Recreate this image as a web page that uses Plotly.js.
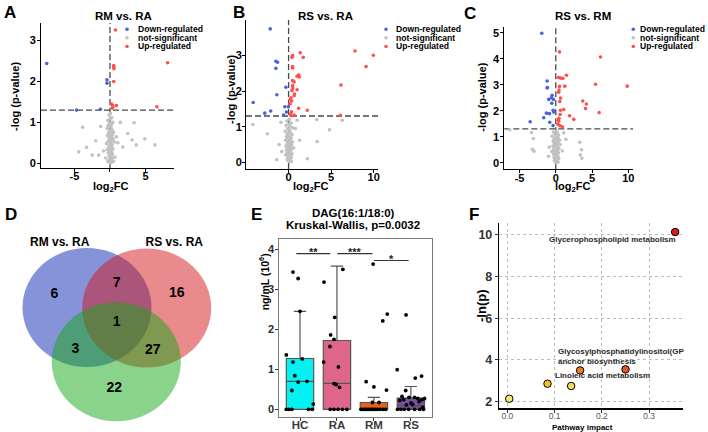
<!DOCTYPE html>
<html><head><meta charset="utf-8">
<script src="https://cdn.plot.ly/plotly-3.0.1.min.js"></script>
<style>html,body{margin:0;padding:0;background:#fff}#chart{width:708px;height:432px}</style>
</head><body><div id="chart"></div>
<script>
// ================= DATA =================
const legendLabels = ['Down-regulated','not-significant','Up-regulated'];
const pThreshold = 1.3;
const fcThreshold = 0;

// ---- A: RM vs. RA ----
const aTitle = 'RM vs. RA';
const aDownX = [-8.9,-0.42,-0.42,-4.7,-1.35];
const aDownY = [2.44,2.04,1.96,1.30,1.32];
const aUpX = [0.76,0.52,0.55,0.55,0.52,8.1,0.2,0.35,0.9,0.4,6.6,0.3];
const aUpY = [3.26,2.39,2.35,2.31,2.0,2.46,1.45,1.42,1.41,1.37,1.38,1.35];
const aNsX = [0.05,-0.15,0.25,-0.3,0.1,0.4,-0.05,0.2,-0.25,0.0,
  0.15,-0.4,0.3,0.05,-0.1,0.5,-0.2,0.1,0.35,-0.35,
  0.0,0.2,-0.15,0.45,0.1,-0.05,0.25,-0.3,0.6,0.05,
  -0.5,0.15,0.3,-0.1,0.0,0.2,-0.2,0.4,0.1,-0.4,
  0.05,0.25,-0.05,0.15,-0.25,0.35,0.0,0.1,-0.1,0.2,
  0.7,-0.6,0.3,0.0,-0.15,0.1,0.5,-0.3,0.2,0.05,
  -3.85,-1.3,3.4,2.5,3.1,3.7,4.9,6.3,-4.4,-3.3,-2.5,-2.0,1.1,1.45,-0.9,0.9,1.8,-1.6];
const aNsY = [1.22,1.18,1.12,1.05,1.08,1.0,0.98,0.95,0.92,0.9,
  0.88,0.85,0.82,0.8,0.78,0.76,0.74,0.72,0.7,0.68,
  0.66,0.64,0.62,0.6,0.58,0.56,0.55,0.53,0.52,0.5,
  0.48,0.46,0.45,0.43,0.42,0.4,0.38,0.36,0.35,0.33,
  0.32,0.3,0.28,0.27,0.25,0.23,0.22,0.2,0.18,0.17,
  0.15,0.13,0.12,0.1,0.08,0.07,0.05,0.04,0.02,0.01,
  0.88,0.9,0.99,0.73,0.57,0.45,0.6,0.45,0.28,0.39,0.2,0.55,0.5,1.0,0.3,0.65,0.4,0.2];

// ---- B: RS vs. RA ----
const bTitle = 'RS vs. RA';
const bDownX = [-2.16,-1.49,-1.3,-1.49,-0.32,-1.38,-4.16,-0.44,-0.02,-2.1,-2.8,-0.6,-0.25];
const bDownY = [3.75,2.84,2.81,2.64,2.11,1.9,1.68,1.56,1.56,1.44,1.38,1.33,1.41];
const bUpX = [7.8,9.95,9.1,6.15,6.07,1.37,0.47,0.4,1.72,0.47,0.47,1.18,1.0,1.25,0.47,0.65,0.47,0.5,1.0,0.4,0.7,0.65,0.28,0.2,0.35,0.16,1.18,2.2,0.35,0.2,0.65,0.3];
const bUpY = [3.13,3.01,2.69,2.17,1.32,3.08,3.0,2.95,2.95,2.69,2.65,2.45,2.42,2.4,2.3,2.26,2.16,2.09,2.04,2.02,1.92,1.87,1.81,1.77,1.72,1.64,1.52,1.46,1.42,1.35,1.33,1.31];
const bNsX = [0.1,-0.2,0.3,0.0,-0.3,0.2,0.5,-0.1,0.15,-0.4,
  0.05,0.25,-0.15,0.4,0.0,-0.25,0.1,0.3,-0.05,0.2,
  -0.35,0.15,0.0,0.45,-0.1,0.25,0.05,-0.2,0.35,0.1,
  -0.3,0.0,0.2,-0.15,0.6,0.05,-0.05,0.3,-0.25,0.15,
  0.1,-0.1,0.0,0.2,-0.2,0.4,0.05,-0.35,0.25,0.0,
  0.15,-0.05,0.3,0.1,-0.15,0.0,0.2,-0.1,0.05,0.35,
  -4.2,-2.5,3.35,4.8,3.3,6.3,-1.4,1.0,-0.9,0.8,-0.8,1.3,-1.1,2.2];
const bNsY = [1.2,1.16,1.1,1.07,1.03,1.0,0.97,0.94,0.9,0.87,
  0.84,0.82,0.8,0.77,0.75,0.72,0.7,0.68,0.66,0.64,
  0.62,0.6,0.58,0.57,0.55,0.53,0.52,0.5,0.48,0.47,
  0.45,0.44,0.42,0.41,0.4,0.38,0.37,0.35,0.34,0.33,
  0.31,0.3,0.28,0.27,0.25,0.24,0.22,0.21,0.2,0.18,
  0.16,0.15,0.13,0.11,0.1,0.08,0.06,0.05,0.03,0.02,
  1.06,0.8,0.58,0.91,1.2,1.18,0.07,1.18,1.12,0.95,0.3,0.62,0.5,0.1];

// ---- C: RS vs. RM ----
const cTitle = 'RS vs. RM';
const cDownX = [-1.93,-1.19,-1.15,-1.2,-0.5,-0.6,-0.32,-0.97,-0.55,-0.37,-0.28,-1.29,-0.87,-1.66,-0.83,-3.53,-0.37];
const cDownY = [4.99,3.15,2.9,2.88,2.6,2.5,2.44,2.44,2.29,2.02,1.95,1.91,1.89,1.73,1.56,1.58,1.43];
const cUpX = [0.51,6.17,0.37,0.65,0.97,1.48,0.51,1.24,5.48,9.85,0.45,0.4,0.65,0.55,3.72,4.23,4.1,1.1,0.65,5.98,0.6,0.45,1.9,2.48,0.35,0.3,0.55,0.9,0.4];
const cUpY = [4.27,4.07,3.28,3.26,3.25,3.37,2.94,2.95,3.02,2.95,2.8,2.71,2.49,2.36,2.38,2.26,2.09,2.05,2.02,1.93,1.86,1.71,1.81,1.67,1.63,1.48,1.43,1.38,1.6];
const cNsX = [0.1,-0.3,0.2,-0.1,0.4,0.0,-0.5,0.3,0.15,-0.2,
  0.05,0.5,-0.35,0.25,-0.05,0.1,-0.25,0.35,0.0,0.6,
  -0.15,0.2,-0.4,0.1,0.3,-0.1,0.0,0.45,-0.3,0.15,
  0.05,-0.2,0.25,-0.55,0.1,0.0,0.35,-0.1,0.2,-0.3,
  0.15,0.0,-0.15,0.3,0.05,-0.05,0.2,-0.25,0.1,0.4,
  0.0,-0.1,0.25,0.1,-0.2,0.05,0.15,-0.05,0.3,0.0,
  -6.35,-3.35,-3.1,-3.2,-3.0,3.3,3.55,3.4,3.6,1.1,1.4,-0.9,0.9,-1.0];
const cNsY = [1.22,1.18,1.15,1.1,1.08,1.05,1.02,0.98,0.95,0.92,
  0.9,0.87,0.85,0.82,0.8,0.78,0.76,0.74,0.72,0.7,
  0.68,0.66,0.64,0.62,0.6,0.58,0.56,0.54,0.52,0.5,
  0.48,0.46,0.45,0.43,0.41,0.4,0.38,0.36,0.35,0.33,
  0.31,0.3,0.28,0.26,0.25,0.23,0.21,0.2,0.18,0.16,
  0.15,0.13,0.11,0.1,0.08,0.06,0.05,0.04,0.02,0.01,
  1.27,1.16,0.93,0.52,0.44,0.79,0.5,0.3,0.17,1.15,0.9,0.6,0.45,0.25];

// ---- D: Venn ----
const vennSets = ['RM vs. RA','RS vs. RA'];
const vennCounts = [6,7,16,1,3,27,22];

// ---- E: DAG(16:1/18:0) ----
const eTitle = ['DAG(16:1/18:0)','Kruskal-Wallis, p=0.0032'];
const eGroups = ['HC','RA','RM','RS'];
const eQ1 = [0,0,0,0];
const eMedian = [0.70,0.65,0.0,0.09];
const eQ3 = [1.27,1.72,0.17,0.28];
const eLower = [0,0,0,0];
const eUpper = [2.45,3.58,0.30,0.57];
const eHCoff = [-0.37,-0.19,-0.19,-0.05,0.0,0.06,-0.14,-0.05,0.19,-0.22,0.36,-0.37,-0.3,-0.22,0.23,0.33];
const eHC    = [1.36,1.18,3.43,3.27,2.45,1.26,0.84,0.68,0.70,0.47,0.13,0,0,0,0,0];
const eRAoff = [-0.35,0.16,-0.06,-0.17,-0.08,-0.19,-0.36,0.04,-0.08,-0.02,0.07,-0.18,-0.08,0.03,0.15,0.27];
const eRA    = [3.18,3.5,2.3,1.86,1.75,1.57,1.18,1.06,0.64,0.62,0.55,0,0,0,0,0];
const eRMoff = [-0.02,0.24,0.36,-0.21,0.0,0.34,-0.04,0.14,-0.35,-0.3,-0.25,-0.2,-0.15,-0.1,-0.05,0.0,0.05,0.1,0.17,0.25,0.32];
const eRM    = [3.63,2.21,2.38,0.69,0.56,0.48,0.17,0.17,0,0,0,0,0,0,0,0,0,0,0,0,0];
const eRSoff = [-0.13,-0.37,0.29,0.12,-0.14,-0.24,-0.19,0.1,0.19,0.3,0.37,-0.3,0.22,0.05,-0.12,0.32,-0.36,-0.27,-0.18,-0.06,0.1,0.24,0.34,0.0,-0.05];
const eRS    = [2.36,0.99,0.83,0.78,0.47,0.32,0.24,0.3,0.27,0.24,0.27,0.22,0.19,0.12,0.11,0.05,0,0,0,0,0,0,0,0.16,0.3];
const eSigLabels = ['**','***','*'];
const eSigFrom = [-0.1,1.01,2.0];
const eSigTo = [0.82,1.96,2.94];
const eSigY = [3.89,3.89,3.72];

// ---- F: pathway ----
const fImpact = [0.004,0.085,0.135,0.154,0.25,0.355];
const fNegLnP = [2.14,2.86,2.75,3.50,3.55,10.14];
const fNames = ['Glycerophospholipid metabolism','Glycosylphosphatidylinositol(GP<br>anchor biosynthesis','Linoleic acid metabolism'];

// ================= STYLE / LAYOUT =================
const W = 708, H = 432;
const FONT = '"Liberation Sans", Arial, sans-serif';
const BLUE = '#4963dd', RED = '#ff4f4f', GRAY = '#c2c2c2';
const px = v => v / W, py = v => 1 - v / H;
const dom = (a, b) => [a / W, b / W];
const domY = (top, bot) => [1 - bot / H, 1 - top / H];

const axisBase = {
  showline: true, linecolor: '#000', linewidth: 1, ticks: 'outside', ticklen: 3, tickwidth: 1,
  tickcolor: '#000', showgrid: false, zeroline: false, fixedrange: true,
  tickfont: {family: FONT, size: 11, color: '#000', weight: 'bold'}
};
const tk = (vals, hide) => ({tickvals: vals, ticktext: vals.map(v => (hide === v ? '' : String(v)))});

function volcano(ax, nsX, nsY, dX, dY, uX, uY) {
  const xa = 'x' + ax, ya = 'y' + ax;
  const m = c => ({size: 3.6, color: c});
  return [
    {type: 'scatter', mode: 'markers', x: nsX, y: nsY, xaxis: xa, yaxis: ya, marker: m(GRAY), hoverinfo: 'skip'},
    {type: 'scatter', mode: 'markers', x: dX, y: dY, xaxis: xa, yaxis: ya, marker: m(BLUE), hoverinfo: 'skip'},
    {type: 'scatter', mode: 'markers', x: uX, y: uY, xaxis: xa, yaxis: ya, marker: m(RED), hoverinfo: 'skip'}
  ];
}

const traces = [];
traces.push(...volcano('', aNsX, aNsY, aDownX, aDownY, aUpX, aUpY));
traces.push(...volcano('2', bNsX, bNsY, bDownX, bDownY, bUpX, bUpY));
traces.push(...volcano('3', cNsX, cNsY, cDownX, cDownY, cUpX, cUpY));

// Venn (D) geometry in panel pixel units
const vennCircles = [
  {cx: 87.0, cy: 307.5, fill: 'rgba(12,42,178,0.5)'},
  {cx: 146.7, cy: 308.0, fill: 'rgba(212,22,28,0.5)'},
  {cx: 116.3, cy: 361.7, fill: 'rgba(22,168,22,0.5)'}
];
const vennRx = 64.5, vennRy = 59.5;
const vennCountPos = [[54.3,294],[116.7,283.3],[176.7,293.3],[116.7,322.7],[75.3,349.3],[152.7,350],[114.3,388.3]];
const vennSetPos = [[59.7,242.5],[174.3,242.5]];
traces.push({type: 'scatter', mode: 'text', x: vennCountPos.map(p => p[0]), y: vennCountPos.map(p => p[1]),
  text: vennCounts.map(String), xaxis: 'x4', yaxis: 'y4', hoverinfo: 'skip', cliponaxis: false,
  textfont: {family: FONT, size: 14, color: '#000', weight: 'bold'}});
traces.push({type: 'scatter', mode: 'text', x: vennSetPos.map(p => p[0]), y: vennSetPos.map(p => p[1]),
  text: vennSets, xaxis: 'x4', yaxis: 'y4', hoverinfo: 'skip', cliponaxis: false,
  textfont: {family: FONT, size: 12, color: '#000', weight: 'bold'}});

// Box plot (E)
const eColors = ['#00f2f2', '#de668b', '#ec5f17', '#7a52a6'];
eGroups.forEach((g, i) => {
  traces.push({type: 'box', x: [i], q1: [eQ1[i]], median: [eMedian[i]], q3: [eQ3[i]],
    lowerfence: [eLower[i]], upperfence: [eUpper[i]], xaxis: 'x5', yaxis: 'y5',
    fillcolor: eColors[i], line: {color: '#555', width: 1.2}, width: 0.74, whiskerwidth: 0.45,
    boxpoints: false, hoverinfo: 'skip'});
});
const eOffs = [eHCoff, eRAoff, eRMoff, eRSoff];
const eVals = [eHC, eRA, eRM, eRS];
eOffs.forEach((off, i) => {
  traces.push({type: 'scatter', mode: 'markers', x: off.map(o => i + o), y: eVals[i], xaxis: 'x5', yaxis: 'y5',
    marker: {size: 3.8, color: '#000'}, hoverinfo: 'skip'});
});

// Pathway (F)
const fColors = ['#f3ec6c', '#f2c226', '#f3e04c', '#ec7a22', '#e4552a', '#dc1c1c'];
traces.push({type: 'scatter', mode: 'markers', x: fImpact, y: fNegLnP, xaxis: 'x6', yaxis: 'y6',
  marker: {size: 7.5, color: fColors, line: {color: '#000', width: 1}}, hoverinfo: 'skip', cliponaxis: false});

// shapes
const shapes = [];
[['', 'x', 'y'], ['2', 'x2', 'y2'], ['3', 'x3', 'y3']].forEach(([s, xa, ya]) => {
  const dash = {color: '#4a4a4a', width: 1.3, dash: '6px,3px'};
  shapes.push({type: 'line', xref: xa, yref: ya + ' domain', x0: fcThreshold, x1: fcThreshold, y0: 0, y1: 1, line: dash, layer: 'below'});
  shapes.push({type: 'line', xref: xa + ' domain', yref: ya, x0: 0, x1: 1, y0: pThreshold, y1: pThreshold, line: dash, layer: 'below'});
});
vennCircles.forEach(c => shapes.push({type: 'circle', xref: 'x4', yref: 'y4', x0: c.cx - vennRx, x1: c.cx + vennRx,
  y0: c.cy - vennRy, y1: c.cy + vennRy, fillcolor: c.fill, line: {width: 0}, layer: 'below'}));
eSigLabels.forEach((l, i) => shapes.push({type: 'line', xref: 'x5', yref: 'y5', x0: eSigFrom[i], x1: eSigTo[i],
  y0: eSigY[i], y1: eSigY[i], line: {color: '#333', width: 1.2}}));

// legends (A,B,C) as markers + labels
const legendPos = [{mx: 127, tx: 135.5}, {mx: 386, tx: 394}, {mx: 633.3, tx: 637.5}];
const legendRows = [29.3, 37.8, 46.5];
const legendCols = [BLUE, GRAY, RED];
const annotations = [];
const ann = (text, x, y, size, o = {}) => Object.assign({text, x: px(x), y: py(y), xref: 'paper', yref: 'paper',
  showarrow: false, xanchor: 'center', yanchor: 'middle',
  font: {family: FONT, size, color: '#000', weight: 'bold'}}, o);
legendPos.forEach(lp => {
  legendRows.forEach((ry, j) => {
    shapes.push({type: 'circle', xref: 'paper', yref: 'paper', xsizemode: 'pixel', ysizemode: 'pixel',
      xanchor: px(lp.mx), yanchor: py(ry), x0: -1.8, x1: 1.8, y0: -1.8, y1: 1.8,
      fillcolor: legendCols[j], line: {width: 0}});
    annotations.push(ann(legendLabels[j], lp.tx, ry, 8.6, {xanchor: 'left'}));
  });
});

// panel letters
[['A', 1.5, 13], ['B', 230.5, 13], ['C', 461.5, 13.5], ['D', 3, 214], ['E', 249, 215], ['F', 466.5, 214]]
  .forEach(([t, x, y]) => annotations.push(ann(t, x, y, 17, {xanchor: 'left'})));

// volcano titles & axis titles
annotations.push(ann(aTitle, 123, 15.7, 11.5));
annotations.push(ann(bTitle, 325, 15.7, 11.5));
annotations.push(ann(cTitle, 583.3, 15.7, 11.5));
[[110.5], [310.5], [572.5]].forEach(([x]) => annotations.push(ann('log<sub>2</sub>FC', x, 186.5, 11)));
[[15, 97], [231, 90], [481.7, 97]].forEach(([x, y]) => annotations.push(ann('-log (p-value)', x, y, 11, {textangle: -90})));

// E titles
annotations.push(ann(eTitle[0], 353.3, 213.3, 11.5));
annotations.push(ann(eTitle[1], 353.3, 225.3, 11.5));
annotations.push(ann('ng/mL (10<sup>6</sup>)', 263.3, 282, 10.5, {textangle: -90}));
eSigLabels.forEach((l, i) => annotations.push({text: l, x: (eSigFrom[i] + eSigTo[i]) / 2, y: eSigY[i], xref: 'x5', yref: 'y5',
  showarrow: false, xanchor: 'center', yanchor: 'bottom', yshift: -6,
  font: {family: FONT, size: 11, color: '#222', weight: 'bold'}}));

// F labels
const fLabelPos = [[0.223, 9.79, 'center'], [0.103, 4.19, 'left'], [0.096, 3.25, 'left']];
fNames.forEach((n, i) => annotations.push({text: n, x: fLabelPos[i][0], y: fLabelPos[i][1], xref: 'x6', yref: 'y6',
  showarrow: false, xanchor: fLabelPos[i][2], yanchor: 'middle', align: 'left',
  font: {family: FONT, size: 8, color: '#2a2a2a', weight: 'bold'}}));
annotations.push(ann('-ln(p)', 481, 306, 13, {textangle: -90}));
annotations.push(ann('Pathway impact', 582.7, 427, 8));

const xStand = {ticklabelstandoff: -5};
const yStand = {ticklabelstandoff: -1};
const layout = {
  width: W, height: H, margin: {l: 0, r: 0, t: 0, b: 0}, paper_bgcolor: '#fff', plot_bgcolor: 'rgba(0,0,0,0)',
  showlegend: false, font: {family: FONT}, shapes, annotations,
  xaxis:  Object.assign({}, axisBase, xStand, {domain: dom(41, 174), range: [-9.7, 9.0], anchor: 'y'}, tk([-5, 0, 5], 0)),
  yaxis:  Object.assign({}, axisBase, yStand, {domain: domY(23, 168), range: [-0.115, 3.43], anchor: 'x'}, tk([0, 1, 2, 3])),
  xaxis2: Object.assign({}, axisBase, xStand, {domain: dom(246, 378), range: [-5.0, 10.5], anchor: 'y2'}, tk([0, 5, 10])),
  yaxis2: Object.assign({}, axisBase, {ticklabelstandoff: -2}, {domain: domY(20, 169), range: [-0.19, 4.0], anchor: 'x2'}, tk([0, 1, 2, 3])),
  xaxis3: Object.assign({}, axisBase, xStand, {domain: dom(504.3, 633), range: [-7.1, 10.65], anchor: 'y3'}, tk([-5, 0, 5, 10])),
  yaxis3: Object.assign({}, axisBase, yStand, {domain: domY(26.7, 169.3), range: [-0.254, 5.24], anchor: 'x3'}, tk([0, 1, 2, 3, 4, 5])),
  xaxis4: {domain: dom(0, 230), range: [0, 230], visible: false, anchor: 'y4', fixedrange: true},
  yaxis4: {domain: domY(228, 432), range: [432, 228], visible: false, anchor: 'x4', fixedrange: true},
  xaxis5: Object.assign({}, axisBase, {domain: dom(279.3, 432.3), range: [-0.56, 3.58], anchor: 'y5',
    mirror: true, linecolor: '#7a7a7a', tickcolor: '#333', ticklen: 3, tickvals: [0, 1, 2, 3], ticktext: eGroups,
    ticklabelstandoff: -6, tickfont: {family: FONT, size: 11.5, color: '#3a3a3a', weight: 'bold'}}),
  yaxis5: Object.assign({}, axisBase, {domain: domY(239.3, 417.3), range: [-0.2, 4.25], anchor: 'x5',
    mirror: true, linecolor: '#7a7a7a', tickcolor: '#333', ticklen: 3, tickvals: [0, 1, 2, 3, 4],
    ticklabelstandoff: -1, tickfont: {family: FONT, size: 11, color: '#2a2a2a', weight: 'bold'}}),
  xaxis6: Object.assign({}, axisBase, {domain: dom(499.3, 682.7), range: [-0.017, 0.371], anchor: 'y6',
    linewidth: 1.5, ticklen: 3, tickcolor: '#333', tickvals: [0, 0.1, 0.2, 0.3], ticktext: ['0.0', '0.1', '0.2', '0.3'],
    showgrid: true, gridcolor: '#bdbdbd', griddash: 'dot', gridwidth: 1, ticklabelstandoff: -4,
    tickfont: {family: FONT, size: 8.5, color: '#555', weight: 'normal'}}),
  yaxis6: Object.assign({}, axisBase, {domain: domY(223.3, 408.3), range: [1.68, 10.56], anchor: 'x6',
    linewidth: 1.5, ticklen: 3, tickcolor: '#333', tickvals: [2, 4, 6, 8, 10],
    showgrid: true, gridcolor: '#bdbdbd', griddash: 'dot', gridwidth: 1,
    tickfont: {family: FONT, size: 12.5, color: '#333', weight: 'bold'}})
};

Plotly.newPlot('chart', traces, layout, {staticPlot: true, displayModeBar: false});
</script>
</body></html>
